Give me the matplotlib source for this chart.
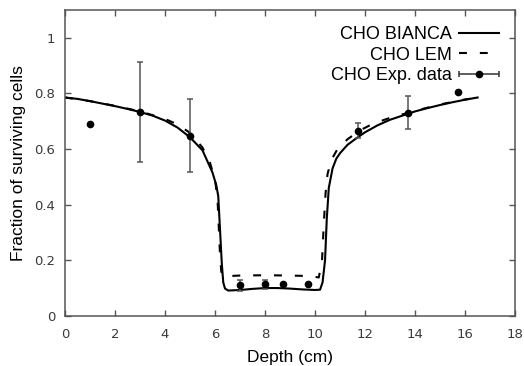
import numpy as np
import matplotlib
matplotlib.use('Agg')
import matplotlib.pyplot as plt
from matplotlib.legend_handler import HandlerErrorbar

# CHO BIANCA (solid)
bianca_x = [0, 0.5, 1, 1.5, 2, 2.5, 3, 3.5, 4, 4.5, 5, 5.5, 5.9, 6.05, 6.13, 6.2, 6.27, 6.33, 6.4, 6.53,
            7.0, 7.5, 8.0, 8.5, 9.0, 9.5, 10.0, 10.2, 10.3, 10.4, 10.47, 10.55, 10.7, 10.85, 11.0, 11.3,
            11.6, 12.0, 12.5, 13.0, 13.5, 14.0, 14.5, 15.0, 15.5, 16.0, 16.5]
bianca_y = [0.785, 0.78, 0.772, 0.763, 0.754, 0.744, 0.733, 0.72, 0.702, 0.677, 0.642, 0.595, 0.515, 0.47, 0.43,
            0.31, 0.19, 0.12, 0.098, 0.091,
            0.093, 0.097, 0.1, 0.1, 0.098, 0.095, 0.093, 0.094, 0.12, 0.2, 0.35, 0.46, 0.53, 0.565, 0.585, 0.615,
            0.635, 0.66, 0.685, 0.705, 0.72, 0.735, 0.747, 0.758, 0.768, 0.777, 0.785]

# CHO LEM (dashed)
lem_x = [0, 1, 2, 3, 4, 4.5, 5, 5.5, 5.8, 6.0, 6.1, 6.15, 6.2, 6.25, 6.32, 7, 8, 9, 9.8, 10.15, 10.28,
         10.35, 10.42, 10.5, 10.65, 10.9, 11.3, 11.8, 12.3, 13, 14, 15, 16, 16.6]
lem_y = [0.785, 0.772, 0.755, 0.735, 0.708, 0.688, 0.658, 0.605, 0.55, 0.49, 0.42, 0.32, 0.22, 0.16, 0.142,
         0.145, 0.146, 0.145, 0.143, 0.138, 0.2, 0.33, 0.44, 0.51, 0.56, 0.6, 0.635, 0.667, 0.69, 0.712,
         0.737, 0.76, 0.778, 0.785]

# CHO Exp. data
exp_x = [1, 3, 5, 7, 8, 8.7, 9.7, 11.7, 13.7, 15.7]
exp_y = [0.69, 0.734, 0.648, 0.11, 0.113, 0.115, 0.115, 0.665, 0.731, 0.803]
exp_err = [0, 0.18, 0.13, 0.02, 0.015, 0, 0, 0.027, 0.058, 0]

plt.rcParams['font.family'] = ['Liberation Sans', 'DejaVu Sans']

fig = plt.figure(figsize=(5.24, 3.66), dpi=100)
ax = fig.add_axes([0.124, 0.137, 0.859, 0.836])

ax.plot(bianca_x, bianca_y, color='black', lw=1.5, label='CHO BIANCA')
ax.plot(lem_x, lem_y, color='black', lw=1.5, dashes=(3.8, 6.2), label='CHO LEM')

ex = np.array(exp_x)
ey = np.array(exp_y)
ee = np.array(exp_err)
m = ee > 0
ax.errorbar(ex[m], ey[m], yerr=ee[m], fmt='none', ecolor='#555555', elinewidth=1.1, capsize=2.5, capthick=1.1)
ax.plot(ex, ey, 'o', color='black', ms=4.5, zorder=5)

# proxy for gnuplot-style horizontal errorbar key
eb = ax.errorbar([np.nan], [np.nan], xerr=[1], fmt='o', color='black', ms=4.5, ecolor='#333333',
                 elinewidth=1.1, capsize=2.5, capthick=1.1, label='CHO Exp. data')

ax.set_xlim(0, 18)
ax.set_ylim(0, 1.1)
ax.set_xticks(range(0, 19, 2))
ax.set_yticks([0, 0.2, 0.4, 0.6, 0.8, 1])
ax.set_yticklabels(['0', '0.2', '0.4', '0.6', '0.8', '1'])
ax.tick_params(direction='in', top=True, right=True, length=4, width=1, color='#555555',
               labelcolor='#3a3a3a', labelsize=9.5)
ax.tick_params(axis='x', pad=9)
ax.tick_params(axis='y', pad=7)
for lab in ax.get_xticklabels() + ax.get_yticklabels():
    lab.set_family('DejaVu Sans')
for s in ax.spines.values():
    s.set_color('#555555')
    s.set_linewidth(1.1)

ax.set_xlabel('Depth (cm)', fontsize=12.5, labelpad=6)
ax.set_ylabel('Fraction of surviving cells', fontsize=12.5, labelpad=6)

leg = ax.legend(loc='upper right', frameon=False, markerfirst=False, fontsize=13,
                handlelength=2.2, handletextpad=0.4, labelspacing=0.2, borderaxespad=0.5,
                numpoints=1, handler_map={eb: HandlerErrorbar(xerr_size=1.1)})

plt.savefig('out.png', dpi=100)
